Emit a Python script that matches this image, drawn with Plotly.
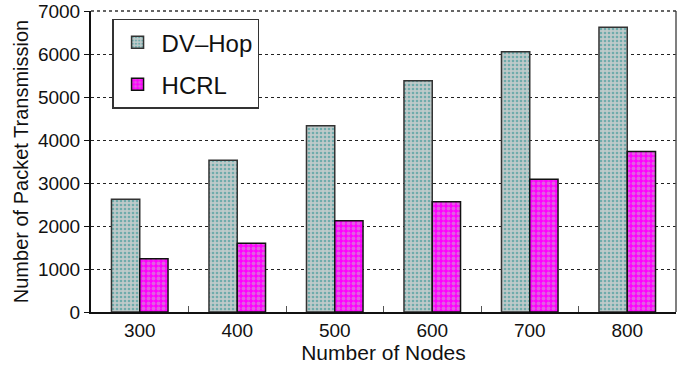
import plotly.graph_objects as go

nodes = ["300", "400", "500", "600", "700", "800"]
dv_hop = [2620, 3530, 4330, 5380, 6050, 6620]
hcrl = [1240, 1600, 2120, 2565, 3090, 3730]
y_ticks = [0, 1000, 2000, 3000, 4000, 5000, 6000, 7000]

FONT = "Liberation Sans, Arial, sans-serif"

fig = go.Figure()
fig.add_trace(go.Bar(
    x=nodes, y=dv_hop, name="DV–Hop", legendgroup="g1",
    marker=dict(
        color="#b9c9c9",
        line=dict(color="#333333", width=1.5),
        pattern=dict(shape=".", fgcolor="#1f8c8c", bgcolor="#bfcaca", size=4, solidity=0.35),
    ),
))
fig.add_trace(go.Bar(
    x=nodes, y=hcrl, name="HCRL", legendgroup="g2",
    marker=dict(
        color="#ff00ff",
        line=dict(color="#111111", width=1.5),
        pattern=dict(shape=".", fgcolor="#c0c0c0", bgcolor="#ff00ff", size=5, solidity=0.45),
    ),
))

fig.update_layout(
    width=686, height=366,
    margin=dict(l=91, r=10, t=11, b=54),
    paper_bgcolor="white", plot_bgcolor="white",
    barmode="group", bargap=0.42, bargroupgap=0,
    font=dict(family=FONT, size=19, color="#111111"),
    showlegend=True,
    legend=dict(
        x=0.036, y=0.975, xanchor="left", yanchor="top",
        bgcolor="white", bordercolor="#333333", borderwidth=1.5,
        font=dict(size=24, family=FONT),
        itemwidth=38, tracegroupgap=8,
    ),
    xaxis=dict(
        type="category", automargin=False,
        title=dict(text="Number of Nodes", font=dict(size=21), standoff=4),
        showline=True, linecolor="#111111", linewidth=2,
        ticks="inside", tickson="boundaries", ticklen=6, tickcolor="#555555",
        tickfont=dict(size=19),
        showgrid=False,
    ),
    yaxis=dict(
        range=[0, 7000], tickvals=y_ticks, automargin=False,
        title=dict(text="Number of Packet Transmission", font=dict(size=20), standoff=4),
        showline=True, linecolor="#111111", linewidth=2,
        ticks="outside", ticklen=5, tickcolor="#111111",
        tickfont=dict(size=19),
        showgrid=True, gridcolor="#222222", griddash="dot", gridwidth=1,
        zeroline=False,
    ),
    shapes=[
        dict(type="line", xref="paper", yref="paper", x0=1, x1=1, y0=0, y1=1,
             line=dict(color="#555555", width=1.5)),
        dict(type="line", xref="paper", yref="paper", x0=0, x1=1, y0=1, y1=1,
             line=dict(color="#333333", width=1.5, dash="dot")),
    ],
)

fig.write_html("out.html")
